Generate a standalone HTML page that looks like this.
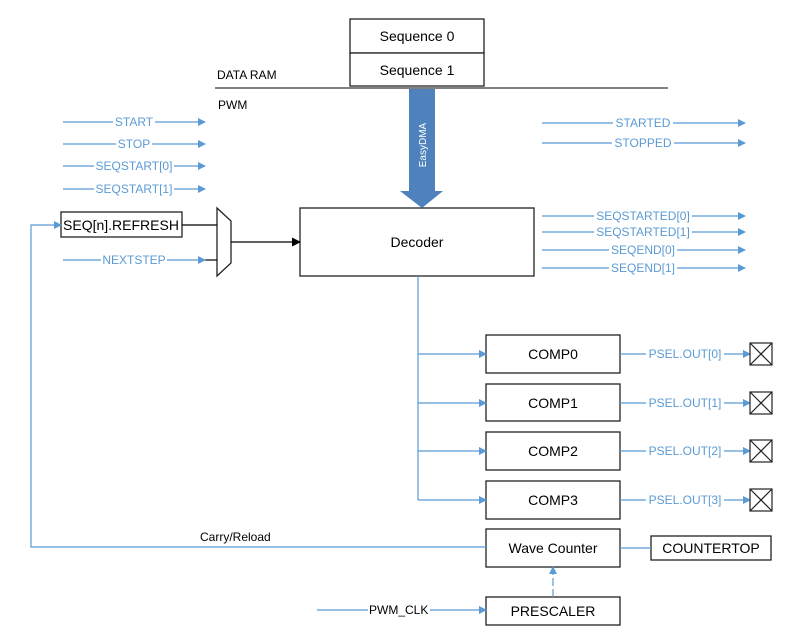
<!DOCTYPE html>
<html><head><style>body{margin:0;background:#fff}</style></head><body>
<svg width="798" height="630" xmlns="http://www.w3.org/2000/svg" font-family="Liberation Sans, sans-serif">
<defs>
<marker id="b" markerWidth="8" markerHeight="8" refX="7" refY="4" orient="auto" markerUnits="userSpaceOnUse"><path d="M0,0 L8,4 L0,8 z" fill="#5b9bd5"/></marker>
<marker id="k" markerWidth="9" markerHeight="9" refX="8" refY="4.5" orient="auto" markerUnits="userSpaceOnUse"><path d="M0,0 L9,4.5 L0,9 z" fill="#000"/></marker>
</defs>
<g fill="#fff" stroke="#222" stroke-width="1.3">
<rect x="350" y="19" width="134" height="34"/><rect x="350" y="53" width="134" height="33"/>
<rect x="300" y="208" width="234" height="68"/>
<rect x="61" y="212" width="121" height="25"/>
<rect x="486" y="335" width="134" height="38"/><rect x="486" y="384" width="134" height="37"/>
<rect x="486" y="432" width="134" height="38"/><rect x="486" y="481" width="134" height="38"/>
<rect x="486" y="529" width="134" height="38"/><rect x="651" y="536" width="120" height="24"/>
<rect x="486" y="597" width="134" height="28"/>
<path d="M217,208 L231,221 L231,263 L217,276 z"/>
</g>
<line x1="215" y1="88" x2="668" y2="88" stroke="#000"/>
<path d="M409,89 H435 V191 H443 L422,208 L400,191 H409 z" fill="#4f81bd"/>
<text x="426" y="145" font-size="10" fill="#fff" transform="rotate(-90 426 145)" text-anchor="middle">EasyDMA</text>
<g font-size="14" text-anchor="middle" fill="#000">
<text x="417" y="41">Sequence 0</text><text x="417" y="75">Sequence 1</text>
<text x="417" y="247">Decoder</text>
<text x="121" y="230">SEQ[n].REFRESH</text>
<text x="553" y="359">COMP0</text><text x="553" y="408">COMP1</text>
<text x="553" y="456">COMP2</text><text x="553" y="505">COMP3</text>
<text x="553" y="553">Wave Counter</text><text x="711" y="553">COUNTERTOP</text>
<text x="553" y="616">PRESCALER</text>
</g>
<g font-size="12" fill="#000"><text x="217" y="79">DATA RAM</text><text x="218" y="109">PWM</text>
<text x="200" y="541">Carry/Reload</text></g>
<g stroke="#000" stroke-width="1.2" fill="none">
<line x1="182" y1="225" x2="217" y2="225"/><line x1="205" y1="260" x2="217" y2="260"/>
<line x1="231" y1="242" x2="300" y2="242" marker-end="url(#k)"/>
</g>
<g stroke="#5b9bd5" stroke-width="1.2" fill="none">
<line x1="63" y1="122" x2="205" y2="122" marker-end="url(#b)"/>
<line x1="63" y1="144" x2="205" y2="144" marker-end="url(#b)"/>
<line x1="63" y1="166" x2="205" y2="166" marker-end="url(#b)"/>
<line x1="63" y1="189" x2="205" y2="189" marker-end="url(#b)"/>
<line x1="63" y1="260" x2="205" y2="260" marker-end="url(#b)"/>
<line x1="542" y1="123" x2="745" y2="123" marker-end="url(#b)"/>
<line x1="542" y1="143" x2="745" y2="143" marker-end="url(#b)"/>
<line x1="542" y1="216" x2="745" y2="216" marker-end="url(#b)"/>
<line x1="542" y1="232" x2="745" y2="232" marker-end="url(#b)"/>
<line x1="542" y1="250" x2="745" y2="250" marker-end="url(#b)"/>
<line x1="542" y1="268" x2="745" y2="268" marker-end="url(#b)"/>
<path d="M418,276 V500"/>
<line x1="418" y1="354" x2="486" y2="354" marker-end="url(#b)"/>
<line x1="418" y1="403" x2="486" y2="403" marker-end="url(#b)"/>
<line x1="418" y1="451" x2="486" y2="451" marker-end="url(#b)"/>
<line x1="418" y1="500" x2="486" y2="500" marker-end="url(#b)"/>
<line x1="620" y1="354" x2="750" y2="354" marker-end="url(#b)"/>
<line x1="620" y1="403" x2="750" y2="403" marker-end="url(#b)"/>
<line x1="620" y1="451" x2="750" y2="451" marker-end="url(#b)"/>
<line x1="620" y1="500" x2="750" y2="500" marker-end="url(#b)"/>
<path d="M486,547 H31 V225 H61" marker-end="url(#b)"/>
<line x1="620" y1="548" x2="651" y2="548"/>
<line x1="553" y1="597" x2="553" y2="567" stroke-dasharray="8,3" marker-end="url(#b)"/>
<line x1="317" y1="610" x2="368" y2="610"/>
<line x1="430" y1="610" x2="486" y2="610" marker-end="url(#b)"/>
</g>
<g fill="#fff">
<rect x="113" y="115" width="42" height="14"/><rect x="116" y="137" width="36" height="14"/>
<rect x="94" y="159" width="80" height="14"/><rect x="94" y="182" width="80" height="14"/>
<rect x="101" y="253" width="66" height="14"/>
<rect x="613" y="116" width="60" height="14"/><rect x="612" y="136" width="62" height="14"/>
<rect x="594" y="209" width="98" height="14"/><rect x="594" y="225" width="98" height="14"/>
<rect x="609" y="243" width="68" height="14"/><rect x="609" y="261" width="68" height="14"/>
<rect x="646" y="347" width="78" height="14"/><rect x="646" y="396" width="78" height="14"/>
<rect x="646" y="444" width="78" height="14"/><rect x="646" y="493" width="78" height="14"/>
</g>
<text x="369" y="614" font-size="12" fill="#000">PWM_CLK</text>
<g font-size="12" fill="#5b9bd5" text-anchor="middle">
<text x="134" y="126">START</text><text x="134" y="148">STOP</text>
<text x="134" y="170">SEQSTART[0]</text><text x="134" y="193">SEQSTART[1]</text>
<text x="134" y="264">NEXTSTEP</text>
<text x="643" y="127">STARTED</text><text x="643" y="147">STOPPED</text>
<text x="643" y="220">SEQSTARTED[0]</text><text x="643" y="236">SEQSTARTED[1]</text>
<text x="643" y="254">SEQEND[0]</text><text x="643" y="272">SEQEND[1]</text>
<text x="685" y="358">PSEL.OUT[0]</text><text x="685" y="407">PSEL.OUT[1]</text>
<text x="685" y="455">PSEL.OUT[2]</text><text x="685" y="504">PSEL.OUT[3]</text>
</g>
<g stroke="#222" stroke-width="1.2" fill="#fff">
<g><rect x="750" y="343" width="22" height="22"/><path d="M750,343 L772,365 M772,343 L750,365"/></g>
<g><rect x="750" y="392" width="22" height="22"/><path d="M750,392 L772,414 M772,392 L750,414"/></g>
<g><rect x="750" y="440" width="22" height="22"/><path d="M750,440 L772,462 M772,440 L750,462"/></g>
<g><rect x="750" y="489" width="22" height="22"/><path d="M750,489 L772,511 M772,489 L750,511"/></g>
</g>
</svg>
</body></html>
